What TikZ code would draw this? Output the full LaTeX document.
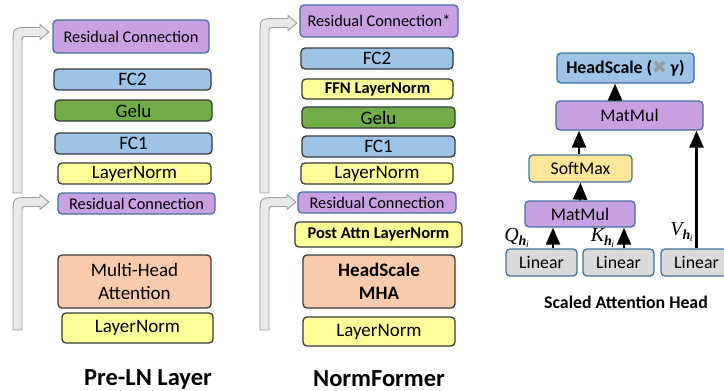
\documentclass[tikz,border=0pt]{standalone}
\usepackage{fontspec}
\setmainfont{Carlito}
\newfontfamily\symfont{DejaVu Sans}
\newfontfamily\lblfont{Liberation Serif}
\usetikzlibrary{arrows.meta}

\definecolor{resfill}{HTML}{C9A1E3}
\definecolor{fcfill}{HTML}{9DC3E6}
\definecolor{gelufill}{HTML}{70AD47}
\definecolor{lnfill}{HTML}{FFFF99}
\definecolor{attnfill}{HTML}{F8CBAD}
\definecolor{smfill}{HTML}{FFE699}
\definecolor{linfill}{HTML}{DADADA}
\definecolor{blueedge}{HTML}{41719C}
\definecolor{darkedge}{HTML}{3A3A3A}
\definecolor{skipfill}{HTML}{E9E9E9}
\definecolor{skipedge}{HTML}{9C9C9C}

\newcommand{\headsub}[1]{#1\textsubscript{\textbf{h}\textsubscript{\kern-0.5pt i}}}

\tikzset{
  blk/.style={rectangle, rounded corners=4pt, draw=darkedge, line width=1.3pt,
    inner sep=0pt, align=center, font=\fontsize{19}{23}\selectfont},
  res/.style={fill=resfill, draw=blueedge, font=\fontsize{16.3}{18}\selectfont},
  fc/.style={fill=fcfill},
  gelu/.style={fill=gelufill},
  ln/.style={fill=lnfill},
  attn/.style={fill=attnfill},
  headbox/.style={draw=blueedge, font=\fontsize{17.8}{20}\selectfont},
  skip/.style={fill=skipfill, draw=skipedge, line width=0.9pt},
  tri/.style={line width=2.4pt, -{Triangle[width=14pt,length=17pt]}},
  title/.style={font=\fontsize{24.5}{28}\selectfont\bfseries, anchor=base},
  qkvlbl/.style={font=\fontsize{20}{20}\selectfont\lblfont\itshape, inner sep=0pt}
}

\begin{document}
\begin{tikzpicture}[x=1pt,y=-1pt]
  \useasboundingbox (0,0) rectangle (724,391);
  \clip (0,0) rectangle (724,391);

  % residual skip arrows
  \foreach \sx/\hy/\tx/\by in {17.5/32/49/193, 17.5/202/49/330, 264.5/23/297/193, 264.5/202/296/330}
    \draw[skip] (\sx-4.5,\by) -- (\sx-4.5,\hy+12)
      .. controls (\sx-4.5,\hy-4.5) .. (\sx+12,\hy-4.5)
      -- (\tx-9,\hy-4.5) -- (\tx-9,\hy-7.5) -- (\tx,\hy) -- (\tx-9,\hy+7.5) -- (\tx-9,\hy+4.5)
      -- (\sx+10,\hy+4.5) .. controls (\sx+4.5,\hy+4.5) .. (\sx+4.5,\hy+10)
      -- (\sx+4.5,\by) -- cycle;

  \begin{scope}[every node/.style={blk}]
    % Pre-LN layer
    \node[res, minimum width=156, minimum height=33] (rcA)   at (131,36.5)  {Residual Connection};
    \node[fc,   minimum width=157, minimum height=21] (fc2A)  at (132.5,79.5) {FC2};
    \node[gelu, minimum width=157, minimum height=21] (geluA) at (133.5,110.5) {Gelu};
    \node[fc,   minimum width=157, minimum height=21] (fc1A)  at (133.5,143.5) {FC1};
    \node[ln,   minimum width=153, minimum height=21] (lnA)   at (134.5,173.5) {LayerNorm};
    \node[res, minimum width=157, minimum height=21] (rcB)   at (136.5,203.5) {Residual Connection};
    \node[attn, minimum width=153, minimum height=53] (mhaA)  at (134.5,281.5) {Multi-Head\\Attention};
    \node[ln,   minimum width=151, minimum height=30] (ln0A)  at (137.5,328)  {LayerNorm};

    % NormFormer
    \node[res, minimum width=158, minimum height=32] (rcC)   at (379,21)    {Residual Connection*};
    \node[fc,   minimum width=152, minimum height=21] (fc2B)  at (377,58.5)  {FC2};
    \node[ln,   minimum width=151, minimum height=20,
          font=\fontsize{16.5}{18}\selectfont\bfseries] (ffnln) at (377.5,89) {FFN LayerNorm};
    \node[gelu, minimum width=153, minimum height=21] (geluB) at (378.5,117.5) {Gelu};
    \node[fc,   minimum width=153, minimum height=21] (fc1B)  at (378.5,146.5) {FC1};
    \node[ln,   minimum width=152, minimum height=21] (lnB)   at (377,173.5) {LayerNorm};
    \node[res, minimum width=158, minimum height=21] (rcD)   at (377,202.5) {Residual Connection};
    \node[ln,   minimum width=167, minimum height=25,
          font=\fontsize{16.5}{18}\selectfont\bfseries] (paln) at (378.5,234.5) {Post Attn LayerNorm};
    \node[attn, minimum width=152, minimum height=53,
          font=\fontsize{19}{23}\selectfont\bfseries] (hsmha) at (379,281.5) {HeadScale\\MHA};
    \node[ln,   minimum width=152, minimum height=29] (ln0B)  at (379,331.5) {LayerNorm};

    % scaled attention head
    \node[headbox, fc, minimum width=137, minimum height=30,
          font=\fontsize{17.8}{20}\selectfont\bfseries] (hs) at (625.5,68)
          {HeadScale ({\symfont\mdseries\textcolor{black!40}{✖}}\,\textit{γ})};
    \node[headbox, fill=resfill, minimum width=147, minimum height=29] (mm2) at (629.5,115.5) {MatMul};
    \node[headbox, fill=smfill,  minimum width=103, minimum height=27] (sm)  at (580.5,168.5) {SoftMax};
    \node[headbox, fill=resfill, minimum width=110, minimum height=26] (mm1) at (580,214)     {MatMul};
    \node[headbox, fill=linfill, minimum width=71,  minimum height=27] (lin1) at (541.5,262.5) {Linear};
    \node[headbox, fill=linfill, minimum width=71,  minimum height=27] (lin2) at (618.5,262.5) {Linear};
    \node[headbox, fill=linfill, minimum width=71,  minimum height=27] (lin3) at (696.5,262.5) {Linear};
  \end{scope}

  \node[qkvlbl] (qlab) at (517,238) {\headsub{Q}};
  \node[qkvlbl] (klab) at (603,238) {\headsub{K}};
  \node[qkvlbl] (vlab) at (682,232) {\headsub{V}};

  \draw[tri] (lin1.north) ++(11.5,0) coordinate (qa) -- (qa |- mm1.south);
  \draw[tri] (lin2.north) ++(5.5,0) coordinate (ka) -- (ka |- mm1.south);
  \draw[tri] (lin3.north) -- (lin3.north |- mm2.south);
  \draw[tri] (mm1.north) -- (sm.south);
  \draw[tri] (sm.north) ++(-1.5,0) coordinate (sa) -- (sa |- mm2.south);
  \path (hs.south) ++(-10.5,0) coordinate (ha);
  \draw[tri] (ha |- mm2.north) -- (ha);

  \node[title] (preln) at (148,385) {Pre-LN Layer};
  \node[title] (nform) at (379,386) {NormFormer};
  \node[font=\fontsize{17.8}{20}\selectfont\bfseries, anchor=base] (sahead) at (626,308) {Scaled Attention Head};
\end{tikzpicture}
\end{document}
